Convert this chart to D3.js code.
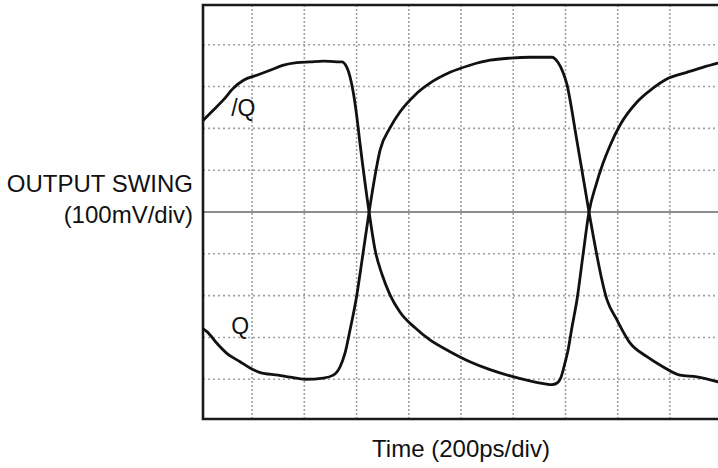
<!DOCTYPE html>
<html>
<head>
<meta charset="utf-8">
<script src="https://cdn.jsdelivr.net/npm/d3@7"></script>
<style>
  html, body { margin: 0; padding: 0; background: #fff; }
  svg { display: block; }
  text { font-family: "Liberation Sans", Arial, Helvetica, sans-serif; fill: #111; }
</style>
</head>
<body>
<svg id="chart" width="718" height="468"></svg>
<script>
// ---- Data (time in ps, 200 ps/div; voltage in mV, 100 mV/div) ----
const qbTime  = [-186, -148, -110, -72, -33, 18, 69, 120, 171, 222, 273, 324, 343, 362, 375, 388, 401, 413, 448,
                 471, 498, 528, 566, 624, 681, 758, 834, 911, 988, 1064, 1121, 1148, 1168, 1183, 1198, 1210, 1225, 1244, 1267, 1290,
                 1317, 1344, 1370, 1409, 1474, 1535, 1588, 1665, 1726, 1784];
const qbValue = [220, 244, 268, 296, 315, 327, 339, 351, 357, 359, 361, 359, 359, 347, 323, 284, 228, 165, 0,
                 -91, -150, -198, -239, -277, -306, -334, -358, -377, -392, -404, -411, -413, -409, -395, -361, -330, -275, -210, -103, 0,
                 65, 117, 158, 208, 263, 296, 318, 334, 346, 356];

const qTime  = [-186, -173, -135, -97, -46, -8, 31, 100, 146, 203, 273, 311, 337, 356, 375, 398, 421, 448,
                471, 490, 528, 566, 624, 681, 758, 834, 911, 988, 1064, 1148, 1171, 1190, 1206, 1221, 1240, 1263, 1290,
                1359, 1397, 1447, 1512, 1573, 1638, 1703, 1784];
const qValue = [-280, -286, -314, -338, -358, -373, -384, -390, -395, -400, -397, -390, -370, -337, -282, -210, -115, 0,
                88, 148, 201, 239, 280, 308, 334, 351, 363, 368, 370, 370, 358, 335, 304, 256, 184, 100, 0,
                -210, -258, -313, -346, -370, -390, -394, -406];

const xGridTicks = [0, 200, 400, 600, 800, 1000, 1200, 1400, 1600];
const yGridTicks = [-400, -300, -200, -100, 100, 200, 300, 400];

const yTitle = ["OUTPUT SWING", "(100mV/div)"];
const xTitle = "Time (200ps/div)";
const labels = [{ text: "/Q", t: -80, v: 230 }, { text: "Q", t: -80, v: -292 }];

// ---- Scales ----
const svg = d3.select("#chart");
const x = d3.scaleLinear().domain([-188, 1784]).range([203, 718]);
const y = d3.scaleLinear().domain([-495, 495]).range([419, 5]);
const [x0, x1] = x.range();
const [yb, yt] = y.range();

// ---- Grid ----
const grid = svg.append("g");
grid.selectAll("line.gx").data(xGridTicks).join("line")
  .attr("x1", d => x(d)).attr("x2", d => x(d))
  .attr("y1", yt).attr("y2", yb)
  .attr("stroke", "#a0a0a0").attr("stroke-width", 1.6)
  .attr("stroke-dasharray", "2,2");
grid.selectAll("line.gy").data(yGridTicks).join("line")
  .attr("x1", x0).attr("x2", x1)
  .attr("y1", d => y(d)).attr("y2", d => y(d))
  .attr("stroke", "#a0a0a0").attr("stroke-width", 1.6)
  .attr("stroke-dasharray", "2,3");

// Center line
svg.append("line")
  .attr("x1", x0).attr("x2", x1).attr("y1", y(0)).attr("y2", y(0))
  .attr("stroke", "#8c8c8c").attr("stroke-width", 1.8);

// ---- Frame (top, left, bottom) ----
const frame = svg.append("g").attr("stroke", "#1a1a1a").attr("stroke-width", 2.6).attr("fill", "none");
frame.append("path").attr("d", `M${x1},${yt}H${x0}V${yb}H${x1}`);

// ---- Traces ----
const line = d3.line().x(d => x(d[0])).y(d => y(d[1])).curve(d3.curveMonotoneX);
const series = [d3.zip(qbTime, qbValue), d3.zip(qTime, qValue)];
svg.append("g").selectAll("path").data(series).join("path")
  .attr("d", line)
  .attr("fill", "none").attr("stroke", "#111")
  .attr("stroke-width", 2.8).attr("stroke-linejoin", "round").attr("stroke-linecap", "round");

// ---- Labels ----
svg.selectAll("text.lbl").data(labels).join("text")
  .attr("class", "lbl")
  .attr("x", d => x(d.t)).attr("y", d => y(d.v))
  .attr("font-size", 23)
  .text(d => d.text);

svg.append("text").attr("x", 193).attr("y", 192)
  .attr("text-anchor", "end").attr("font-size", 24).text(yTitle[0]);
svg.append("text").attr("x", 193).attr("y", 223)
  .attr("text-anchor", "end").attr("font-size", 24).text(yTitle[1]);
svg.append("text").attr("x", 461).attr("y", 457)
  .attr("text-anchor", "middle").attr("font-size", 24).text(xTitle);
</script>
</body>
</html>
